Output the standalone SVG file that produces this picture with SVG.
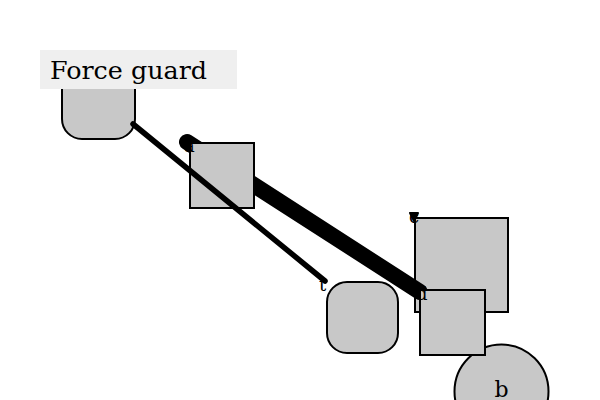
<svg xmlns="http://www.w3.org/2000/svg" width="600" height="400" viewBox="0 0 600 400">
<style>
.node{fill:#c8c8c8;stroke:#000;stroke-width:2}
.conn{stroke:#000;stroke-linecap:round;fill:none}
.lbl{font-family:"DejaVu Serif","Liberation Serif",serif;font-size:18px;fill:#000}
</style>
<rect width="600" height="400" fill="#fff"/>
<g id="node-guard">
<rect class="node" x="62" y="62" width="73" height="77" rx="20"/>
</g>
<g id="node-c">
<rect class="node" x="415" y="218" width="93" height="94"/>
</g>
<g id="node-t">
<rect class="node" x="327" y="282" width="71" height="71" rx="20"/>
</g>
<g id="node-b">
<circle class="node" cx="501.5" cy="391.5" r="47"/>
<text class="lbl" x="501.5" y="397" text-anchor="middle" style="font-size:22px">b</text>
</g>
<g id="connectors">
<line class="conn" x1="187" y1="142" x2="420" y2="292" stroke-width="16"/>
</g>
<g id="node-d">
<rect class="node" x="420" y="290" width="65" height="65"/>
</g>
<g id="node-a">
<rect class="node" x="190" y="143" width="64" height="65"/>
</g>
<g id="connectors-2">
<line class="conn" x1="133" y1="124" x2="325" y2="281" stroke-width="5.5"/>
<path d="M410 213 L418 213 L414 221 Z" fill="#000" stroke="#000" stroke-width="2" stroke-linejoin="round"/>
</g>
<g id="labels">
<rect x="40" y="50" width="197" height="39" fill="#efefef"/>
<text x="50" y="79" style="font-family:'DejaVu Serif','Liberation Serif',serif;font-size:24px" textLength="157" lengthAdjust="spacingAndGlyphs">Force guard</text>
<text class="lbl" x="184" y="152">a</text>
<text class="lbl" x="319" y="291">t</text>
<text class="lbl" x="416" y="300">d</text>
<text class="lbl" x="409" y="223">c</text>
</g>
</svg>
